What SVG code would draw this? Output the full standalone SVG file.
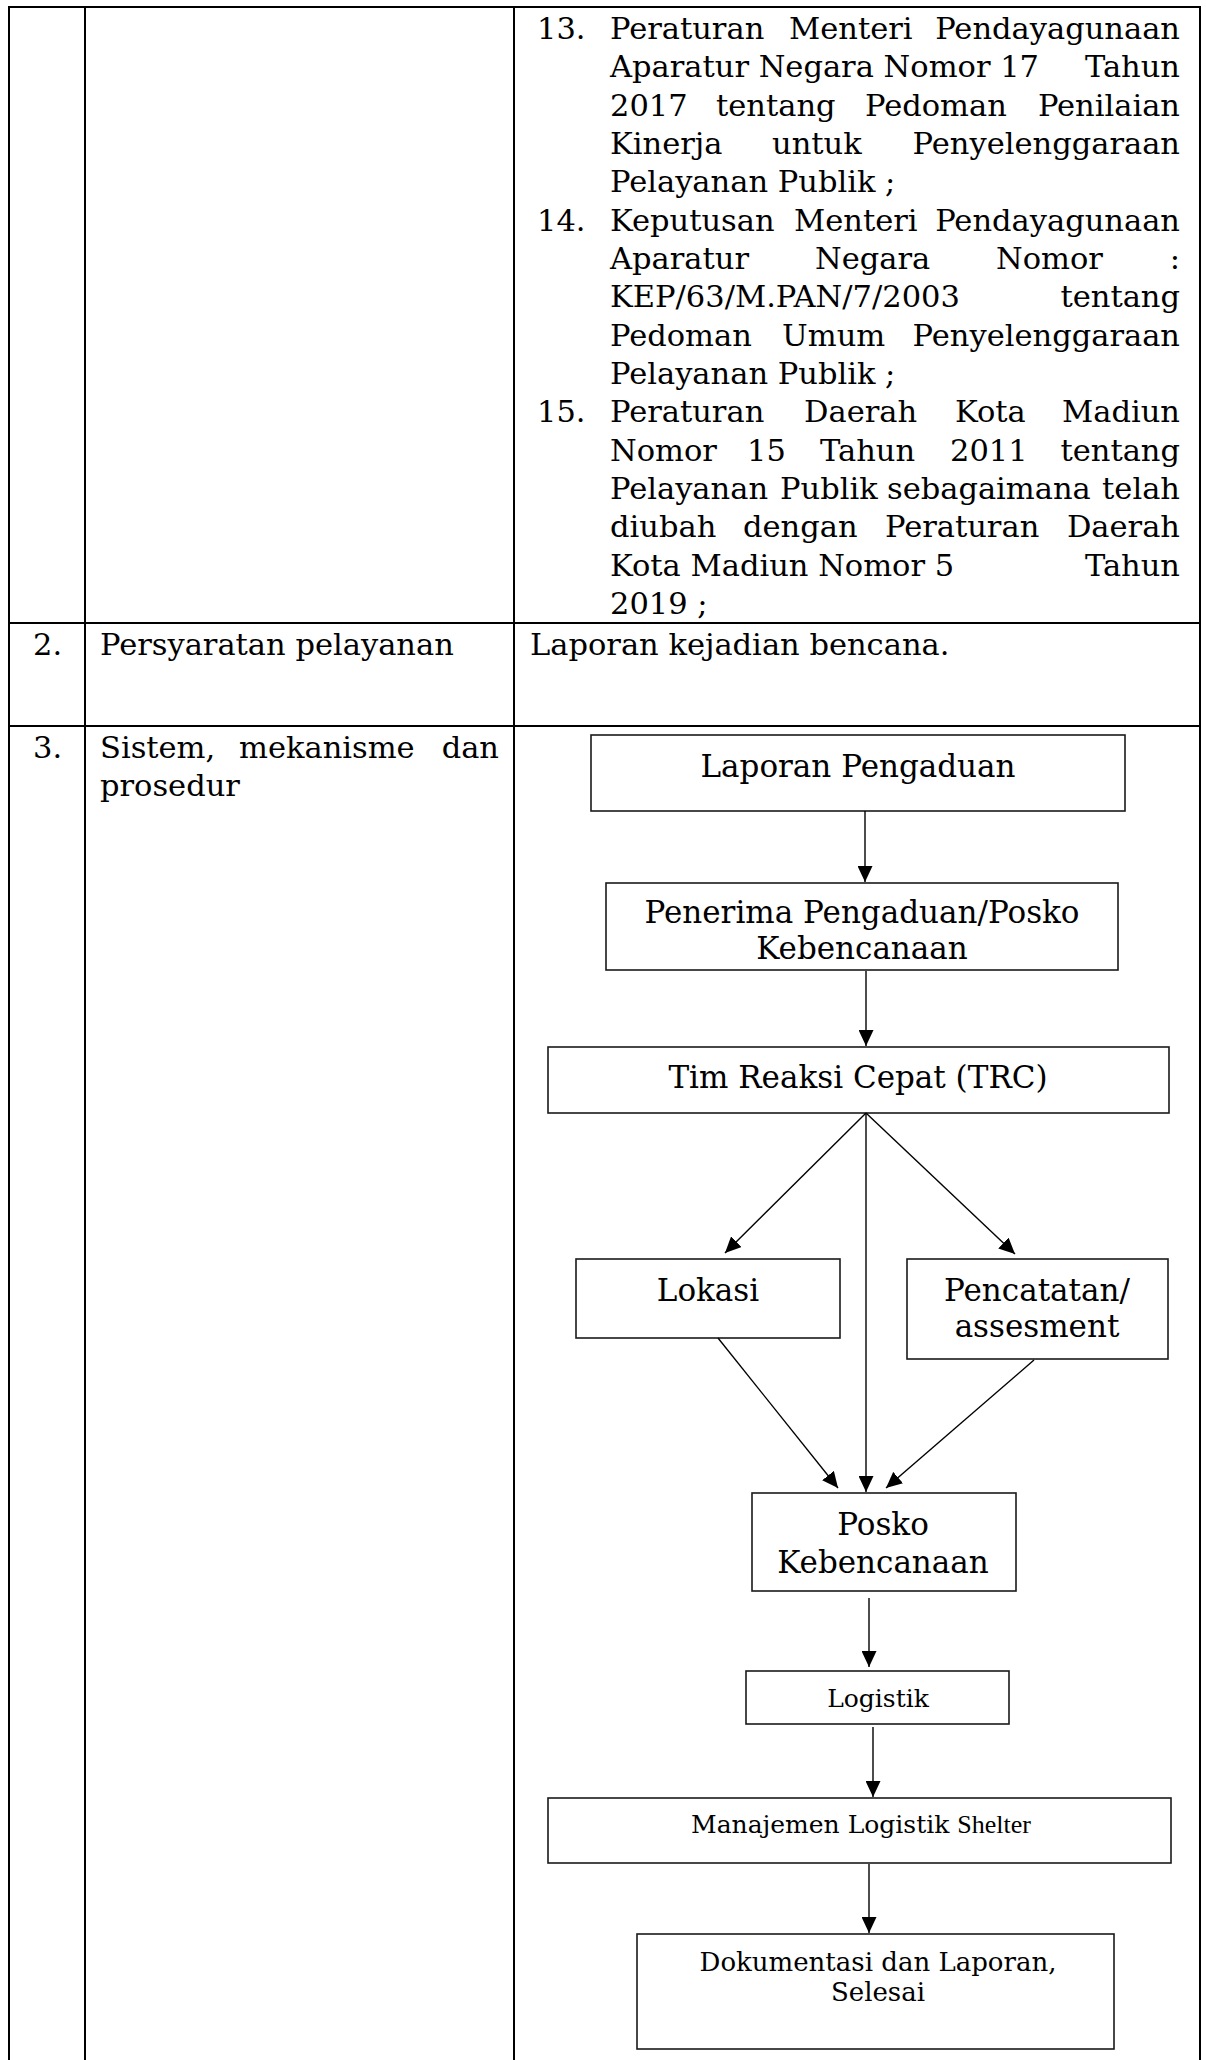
<svg xmlns="http://www.w3.org/2000/svg" width="1206" height="2060" viewBox="0 0 1206 2060">
<style>
.tl{stroke:#000;stroke-width:2;fill:none}
.t{font-family:"DejaVu Serif","Liberation Serif",serif;font-size:30.5px;fill:#000}
.e{text-anchor:end}
.box{fill:#fff;stroke:#1a1a1a;stroke-width:1.6}
.f{font-family:"DejaVu Serif","Liberation Serif",serif;font-size:31px;fill:#000;text-anchor:middle}
.fs{font-size:25px}
.fd{font-size:26px}
.sh{font-family:"Liberation Serif",serif;font-size:26px}
.cn{stroke:#000;stroke-width:1.4;fill:none;marker-end:url(#ah)}
</style>
<defs>
<marker id="ah" markerUnits="userSpaceOnUse" markerWidth="16" markerHeight="15" viewBox="0 0 16 15" refX="16" refY="7.5" orient="auto">
<path d="M0,0 L16,7.5 L0,15 z" fill="#000"/>
</marker>
</defs>
<rect width="1206" height="2060" fill="#fff"/>
<g id="table">
<line class="tl" x1="8" y1="7" x2="1201" y2="7"/>
<line class="tl" x1="9" y1="6" x2="9" y2="2060"/>
<line class="tl" x1="85" y1="6" x2="85" y2="2060"/>
<line class="tl" x1="514" y1="6" x2="514" y2="2060"/>
<line class="tl" x1="1200" y1="6" x2="1200" y2="2060"/>
<line class="tl" x1="8" y1="623" x2="1201" y2="623"/>
<line class="tl" x1="8" y1="726" x2="1201" y2="726"/>
</g>
<g id="row1-text" class="t">
<text x="537" y="39">13.</text>
<text x="610" y="39">Peraturan</text>
<text x="789" y="39">Menteri</text>
<text x="1180" y="39" class="e">Pendayagunaan</text>
<text x="610" y="77">Aparatur Negara Nomor 17</text>
<text x="1180" y="77" class="e">Tahun</text>
<text x="610" y="116">2017</text>
<text x="716" y="116">tentang</text>
<text x="865" y="116">Pedoman</text>
<text x="1180" y="116" class="e">Penilaian</text>
<text x="610" y="154">Kinerja</text>
<text x="772" y="154">untuk</text>
<text x="1180" y="154" class="e">Penyelenggaraan</text>
<text x="610" y="192">Pelayanan Publik ;</text>
<text x="537" y="231">14.</text>
<text x="610" y="231">Keputusan</text>
<text x="794" y="231">Menteri</text>
<text x="1180" y="231" class="e">Pendayagunaan</text>
<text x="610" y="269">Aparatur</text>
<text x="815" y="269">Negara</text>
<text x="996" y="269">Nomor</text>
<text x="1180" y="269" class="e">:</text>
<text x="610" y="307">KEP/63/M.PAN/7/2003</text>
<text x="1180" y="307" class="e">tentang</text>
<text x="610" y="346">Pedoman</text>
<text x="782" y="346">Umum</text>
<text x="1180" y="346" class="e">Penyelenggaraan</text>
<text x="610" y="384">Pelayanan Publik ;</text>
<text x="537" y="422">15.</text>
<text x="610" y="422">Peraturan</text>
<text x="804" y="422">Daerah</text>
<text x="955" y="422">Kota</text>
<text x="1180" y="422" class="e">Madiun</text>
<text x="610" y="461">Nomor</text>
<text x="747" y="461">15</text>
<text x="820" y="461">Tahun</text>
<text x="950" y="461">2011</text>
<text x="1180" y="461" class="e">tentang</text>
<text x="610" y="499">Pelayanan</text>
<text x="780" y="499">Publik</text>
<text x="887" y="499">sebagaimana</text>
<text x="1180" y="499" class="e">telah</text>
<text x="610" y="537">diubah</text>
<text x="743" y="537">dengan</text>
<text x="885" y="537">Peraturan</text>
<text x="1180" y="537" class="e">Daerah</text>
<text x="610" y="576">Kota Madiun Nomor 5</text>
<text x="1180" y="576" class="e">Tahun</text>
<text x="610" y="614">2019 ;</text>
</g>
<g id="row2-text" class="t">
<text x="33" y="655">2.</text>
<text x="100" y="655">Persyaratan pelayanan</text>
<text x="530" y="655">Laporan kejadian bencana.</text>
</g>
<g id="row3-text" class="t">
<text x="33" y="758">3.</text>
<text x="100" y="758">Sistem,</text>
<text x="239" y="758">mekanisme</text>
<text x="499" y="758" class="e">dan</text>
<text x="100" y="796">prosedur</text>
</g>
<g id="n-laporan">
<rect class="box" x="591" y="735" width="534" height="76"/>
<text class="f" x="858" y="777">Laporan Pengaduan</text>
</g>
<g id="n-penerima">
<rect class="box" x="606" y="883" width="512" height="87"/>
<text class="f" x="862" y="923">Penerima Pengaduan/Posko</text>
<text class="f" x="862" y="959">Kebencanaan</text>
</g>
<g id="n-trc">
<rect class="box" x="548" y="1047" width="621" height="66"/>
<text class="f" x="858" y="1088">Tim Reaksi Cepat (TRC)</text>
</g>
<g id="n-lokasi">
<rect class="box" x="576" y="1259" width="264" height="79"/>
<text class="f" x="708" y="1301">Lokasi</text>
</g>
<g id="n-pencatatan">
<rect class="box" x="907" y="1259" width="261" height="100"/>
<text class="f" x="1037" y="1301">Pencatatan/</text>
<text class="f" x="1037" y="1337">assesment</text>
</g>
<g id="n-posko">
<rect class="box" x="752" y="1493" width="264" height="98"/>
<text class="f" x="883" y="1535">Posko</text>
<text class="f" x="883" y="1573">Kebencanaan</text>
</g>
<g id="n-logistik">
<rect class="box" x="746" y="1671" width="263" height="53"/>
<text class="f fs" x="878" y="1707">Logistik</text>
</g>
<g id="n-manajemen">
<rect class="box" x="548" y="1798" width="623" height="65"/>
<text class="f fs" x="861" y="1833">Manajemen Logistik <tspan class="sh">Shelter</tspan></text>
</g>
<g id="n-dokumentasi">
<rect class="box" x="637" y="1934" width="477" height="115"/>
<text class="f fd" x="878" y="1971">Dokumentasi dan Laporan,</text>
<text class="f fd" x="878" y="2001">Selesai</text>
</g>
<g id="connectors">
<line class="cn" x1="865" y1="811" x2="865" y2="882"/>
<line class="cn" x1="866" y1="971" x2="866" y2="1046"/>
<line class="cn" x1="866" y1="1113" x2="725" y2="1253"/>
<line class="cn" x1="866" y1="1113" x2="866" y2="1492"/>
<line class="cn" x1="866" y1="1113" x2="1015" y2="1254"/>
<line class="cn" x1="718" y1="1338" x2="838" y2="1488"/>
<line class="cn" x1="1034" y1="1360" x2="886" y2="1488"/>
<line class="cn" x1="869" y1="1598" x2="869" y2="1667"/>
<line class="cn" x1="873" y1="1727" x2="873" y2="1797"/>
<line class="cn" x1="869" y1="1864" x2="869" y2="1933"/>
</g>
</svg>
